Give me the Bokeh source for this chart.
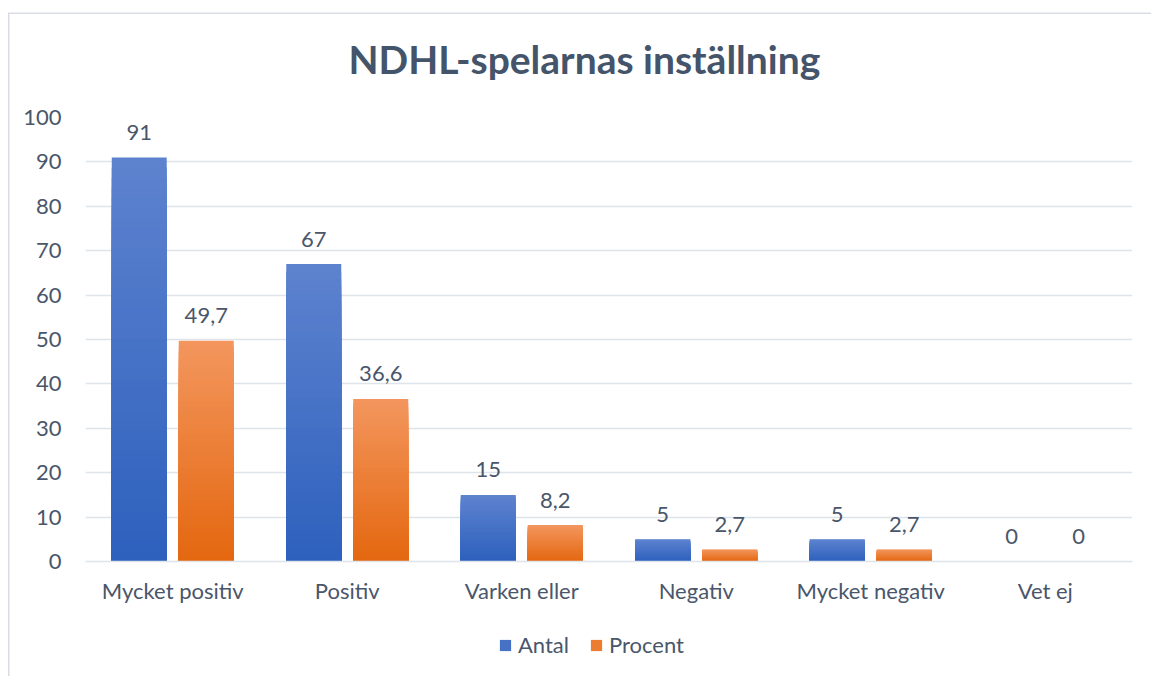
from bokeh.plotting import figure
from bokeh.layouts import column
from bokeh.models import (ColumnDataSource, FactorRange, Title, Legend, LegendItem,
                          SingleIntervalTicker)
from bokeh.transform import dodge
from bokeh.core.properties import value
from bokeh.embed import file_html
from bokeh.resources import INLINE

categories = ["Mycket positiv", "Positiv", "Varken eller", "Negativ", "Mycket negativ", "Vet ej"]
antal = [91, 67, 15, 5, 5, 0]
procent = [49.7, 36.6, 8.2, 2.7, 2.7, 0]
antal_labels = ["91", "67", "15", "5", "5", "0"]
procent_labels = ["49,7", "36,6", "8,2", "2,7", "2,7", "0"]
series_names = ["Antal", "Procent"]
series_colors = ["#4672c6", "#ec7c30"]

FONT = "Lato"
TXT = "#4a566a"

p = figure(x_range=FactorRange(*categories, range_padding=0), y_range=(0, 100),
           frame_width=1047, frame_height=444, output_backend="svg", toolbar_location=None,
           min_border_left=85, min_border_right=19, min_border_top=117, min_border_bottom=48)
p.margin = (0, 0, 0, 0)
# chart border (top and left edges visible in the window) drawn behind the transparent canvas border
p.styles = {"box-shadow": "inset 8px 12.5px 0px 0px white, inset 9.5px 14px 0px 0px #d9dde3"}
p.outline_line_color = None
p.background_fill_color = "white"
p.border_fill_alpha = 0


def lerp(c1, c2, t):
    a = [int(c1[i:i + 2], 16) for i in (1, 3, 5)]
    b = [int(c2[i:i + 2], 16) for i in (1, 3, 5)]
    return "#%02x%02x%02x" % tuple(round(a[k] + (b[k] - a[k]) * t) for k in range(3))


def gradient_source(vals, bottom_col, top_col, n=40):
    # each slice spans 0..fraction of the value; drawn tallest (lightest) first
    cats, tops, cols = [], [], []
    for i in range(n, 0, -1):
        for c, v in zip(categories, vals):
            if v <= 0:
                continue
            cats.append(c)
            tops.append(v * i / n)
            cols.append(lerp(bottom_col, top_col, (i - 0.5) / n))
    return ColumnDataSource(dict(cat=cats, top=tops, color=cols))


OFF = 0.192
BW = 0.315
blue_src = gradient_source(antal, "#2d60bd", "#5e83cf")
orange_src = gradient_source(procent, "#e4670f", "#f3965e")
r1 = p.vbar(x=dodge("cat", -OFF, range=p.x_range), bottom=0, top="top", width=BW,
            source=blue_src, fill_color="color", line_color=None)
r2 = p.vbar(x=dodge("cat", OFF, range=p.x_range), bottom=0, top="top", width=BW,
            source=orange_src, fill_color="color", line_color=None)

lab = ColumnDataSource(dict(cat=categories, a=antal, pr=procent, al=antal_labels, pl=procent_labels))
for col, txt, off in (("a", "al", -OFF), ("pr", "pl", OFF)):
    p.text(x=dodge("cat", off, range=p.x_range), y=col, text=txt, source=lab,
           text_align="center", text_baseline="middle", y_offset=-25,
           text_font=value(FONT), text_font_size="22px", text_color=TXT)

p.xgrid.grid_line_color = None
p.ygrid.grid_line_color = "#dfe3ea"
p.ygrid.grid_line_width = 1.5
p.yaxis.ticker = SingleIntervalTicker(interval=10)
for ax in (p.xaxis, p.yaxis):
    ax.axis_line_color = None
    ax.major_tick_line_color = None
    ax.minor_tick_line_color = None
    ax.major_label_text_font = FONT
    ax.major_label_text_font_size = "22px"
    ax.major_label_text_color = TXT
p.yaxis.major_label_standoff = 18
p.xaxis.major_label_standoff = 9
p.xaxis.axis_line_color = "#dfe3ea"
p.xaxis.axis_line_width = 1.5

p.title = Title(text="NDHL-spelarnas inställning", align="left", offset=263,
                vertical_align="top",
                text_font=FONT, text_font_size="39px", text_font_style="bold",
                text_color="#44546a", standoff=68)

# legend strip below the chart (legend-only renderers kept outside the visible range)
lf = figure(width=1151, height=67, x_range=(0, 1), y_range=(0, 1),
            output_backend="svg", toolbar_location=None,
            x_axis_type=None, y_axis_type=None,
            min_border_left=0, min_border_right=0, min_border_top=0, min_border_bottom=0)
lf.margin = (0, 0, 0, 0)
lf.styles = {"box-shadow": "inset 8px 0px 0px 0px white, inset 9.5px 0px 0px 0px #d9dde3"}
lf.outline_line_color = None
lf.grid.grid_line_color = None
lf.background_fill_alpha = 0
lf.border_fill_alpha = 0
items = []
for name, colr in zip(series_names, series_colors):
    rr = lf.vbar(x="x", top="top", bottom="bottom", width=0.1,
                 source=ColumnDataSource(dict(x=[-5.0], top=[-5.0], bottom=[-6.0])),
                 fill_color=colr, line_color=None)
    items.append(LegendItem(label=name, renderers=[rr]))
legend = Legend(items=items, orientation="horizontal", location=(413, 18),
                label_text_font=FONT, label_text_font_size="22px", label_text_color=TXT,
                glyph_width=14, glyph_height=14, spacing=20, label_standoff=6,
                padding=6, margin=0,
                background_fill_alpha=0, border_line_color=None)
lf.add_layout(legend, "center")

layout = column(p, lf, spacing=0)
open("out.html", "w").write(file_html(layout, INLINE))
